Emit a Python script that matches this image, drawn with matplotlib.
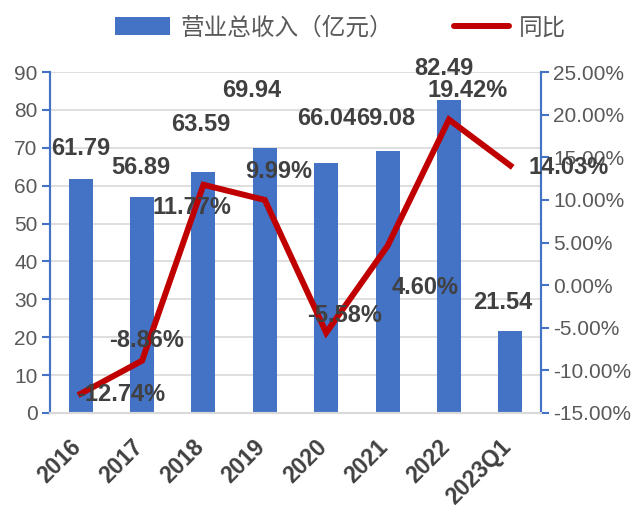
import matplotlib
matplotlib.use("Agg")
import matplotlib.pyplot as plt
from matplotlib.patches import Patch
from matplotlib.lines import Line2D
from matplotlib.ticker import FuncFormatter
from matplotlib.transforms import ScaledTranslation

plt.rcParams['font.family'] = ['Liberation Sans', 'Noto Sans CJK SC', 'DejaVu Sans']

categories = ["2016", "2017", "2018", "2019", "2020", "2021", "2022", "2023Q1"]
revenue = [61.79, 56.89, 63.59, 69.94, 66.04, 69.08, 82.49, 21.54]
yoy = [-12.74, -8.86, 11.77, 9.99, -5.58, 4.60, 19.42, 14.03]
revenue_labels = ["61.79", "56.89", "63.59", "69.94", "66.04", "69.08", "82.49", "21.54"]
yoy_labels = ["-12.74%", "-8.86%", "11.77%", "9.99%", "-5.58%", "4.60%", "19.42%", "14.03%"]
left_ticks = list(range(0, 91, 10))
right_ticks = list(range(-15, 26, 5))
legend_names = ["营业总收入（亿元）", "同比"]

# label offsets in pixels (dx, dy upward positive)
rev_off = [(0, 30), (-1, 30), (-2.5, 48), (-13, 58), (0.7, 44), (-1.7, 33), (-5, 32), (-7.5, 29)]
yoy_off = [(40, -1), (5, 20), (-11.5, -23), (14, 28), (18, 17), (38, -42), (19, 29), (58.5, -1.5)]

BLUE = "#4472C4"
RED = "#C00000"
GRAY = "#595959"
DARK = "#404040"

fig = plt.figure(figsize=(6.32, 5.08), dpi=100)
ax = fig.add_axes([50/632, 1-413/508, 491/632, 341/508])
ax2 = ax.twinx()

x = list(range(len(categories)))
ax.bar(x, revenue, width=0.39, color=BLUE, zorder=2)
ax.set_xlim(-0.5, len(categories) - 0.5)
ax.set_ylim(0, 90)
ax.set_yticks(left_ticks)
ax.grid(axis='y', color="#d9d9d9", linewidth=1.2, zorder=0)
ax.set_axisbelow(True)

ax2.plot(x, yoy, color=RED, linewidth=4.3, solid_joinstyle='miter', zorder=3)
ax2.set_ylim(-15, 25)
ax2.set_yticks(right_ticks)
ax2.yaxis.set_major_formatter(FuncFormatter(lambda v, p: f"{v:.2f}%"))

for a in (ax, ax2):
    a.spines['top'].set_visible(False)
    a.spines['left'].set_color(BLUE)
    a.spines['right'].set_color(BLUE)
    a.spines['left'].set_linewidth(1.5)
    a.spines['right'].set_linewidth(1.5)
    a.spines['bottom'].set_color("#d9d9d9")
    a.spines['bottom'].set_linewidth(1.5)

ax.tick_params(axis='y', colors=BLUE, labelcolor=GRAY, labelsize=15, length=6, width=1.5, direction='out', pad=3)
ax2.tick_params(axis='y', colors=BLUE, labelcolor=GRAY, labelsize=15, length=6, width=1.5, direction='out', pad=3)
ax.tick_params(axis='x', length=0, pad=6)
ax.set_xticks(x)
ax.set_xticklabels(categories, rotation=45, ha='right', rotation_mode='anchor',
                   fontsize=16.5, fontweight='bold', color=DARK)
shift = ScaledTranslation(-11/100, -14/100, fig.dpi_scale_trans)
for lbl in ax.get_xticklabels():
    lbl.set_transform(lbl.get_transform() + shift)

px = 72 / 100.0
for i, (v, t) in enumerate(zip(revenue, revenue_labels)):
    dx, dy = rev_off[i]
    ax.annotate(t, xy=(i, v), xytext=(dx * px, dy * px), textcoords='offset points',
                ha='center', va='center', fontsize=17, fontweight='bold', color=DARK, zorder=10,
                annotation_clip=False)
for i, (v, t) in enumerate(zip(yoy, yoy_labels)):
    dx, dy = yoy_off[i]
    ax2.annotate(t, xy=(i, v), xytext=(dx * px, dy * px), textcoords='offset points',
                 ha='center', va='center', fontsize=17, fontweight='bold', color=DARK, zorder=10,
                 annotation_clip=False)

handles = [Patch(facecolor=BLUE, edgecolor='none'),
           Line2D([0], [0], color=RED, linewidth=4.3, solid_capstyle='round')]
fig.legend(handles, legend_names, loc='center', bbox_to_anchor=(341/632, 1-28/508), ncol=2,
           frameon=False, handlelength=2.3, handleheight=0.8, columnspacing=2.6,
           handletextpad=0.45, labelcolor=GRAY,
           prop={'family': ['Noto Sans CJK SC', 'DejaVu Sans'], 'size': 17})

fig.savefig("out.png", dpi=100)
